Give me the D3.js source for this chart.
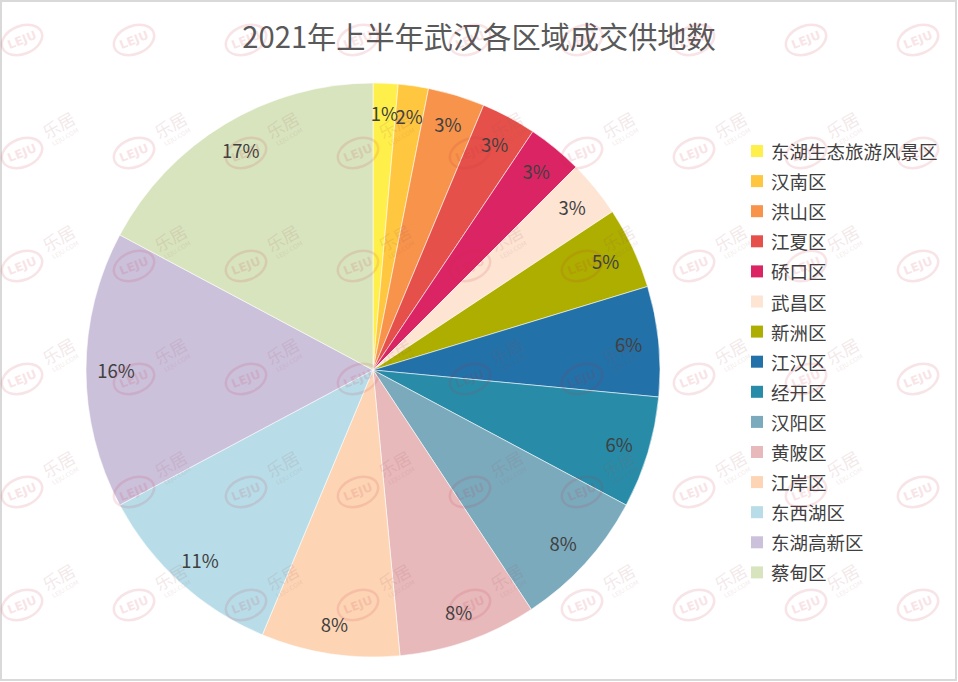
<!DOCTYPE html>
<html><head><meta charset="utf-8">
<script src="https://cdn.jsdelivr.net/npm/d3@7"></script>
<style>
html,body{margin:0;padding:0;background:#fff;}
svg{display:block;}
</style></head>
<body>
<svg id="chart" width="958" height="682"></svg>
<script>
const title = "2021年上半年武汉各区域成交供地数";
const categories = ["东湖生态旅游风景区","汉南区","洪山区","江夏区","硚口区","武昌区","新洲区","江汉区","经开区","汉阳区","黄陂区","江岸区","东西湖区","东湖高新区","蔡甸区"];
const values = [1.4, 1.7, 3.2, 3.1, 3.1, 3.2, 4.6, 6.2, 6.3, 7.9, 7.8, 7.8, 10.9, 15.6, 17.2];
const colors = ["#FFEF4A","#FFC740","#F7934B","#E5504A","#DB2464","#FDE4D3","#ADAE00","#2271A8","#288CA8","#7BAABD","#E7B9BB","#FDD5B5","#B8DDE8","#CCC1DB","#D8E4BE"];

const svg = d3.select("#chart");
const W = 958, H = 682;

// frame
svg.append("rect").attr("x",1).attr("y",1).attr("width",W-3).attr("height",H-3)
  .attr("fill","#fff").attr("stroke","#d9d9d9").attr("stroke-width",2);

// title
svg.append("text").attr("x",479).attr("y",35)
  .attr("text-anchor","middle").attr("dominant-baseline","central")
  .attr("font-family","'Noto Sans CJK SC','Noto Sans',sans-serif")
  .attr("font-size","29.2px").attr("fill","#595959").text(title);

const cx = 373, cy = 370, R = 287;
const total = d3.sum(values);
const pie = d3.pie().sort(null).value(d => d)(values);
const arc = d3.arc().innerRadius(0).outerRadius(R);
const labelArc = d3.arc().innerRadius(257).outerRadius(257);

const g = svg.append("g").attr("transform",`translate(${cx},${cy})`);
g.selectAll("path").data(pie).join("path")
  .attr("d",arc).attr("fill",(d,i)=>colors[i])
  .attr("stroke","#fff").attr("stroke-width",0.7).attr("stroke-opacity",0.8);

g.selectAll("text.lbl").data(pie).join("text").attr("class","lbl")
  .attr("transform",d=>`translate(${labelArc.centroid(d)})`)
  .attr("text-anchor","middle").attr("dominant-baseline","central")
  .attr("font-family","'Noto Sans CJK SC','Noto Sans',sans-serif")
  .attr("font-size","18.5px").attr("fill","#404040")
  .text(d => Math.round(d.data/total*100) + "%");

// legend
const lg = svg.append("g").attr("transform","translate(751,151)");
const rows = lg.selectAll("g").data(categories).join("g")
  .attr("transform",(d,i)=>`translate(0,${i*30.1})`);
rows.append("rect").attr("x",0).attr("y",-6).attr("width",12).attr("height",12)
  .attr("fill",(d,i)=>colors[i]);
rows.append("text").attr("x",20).attr("y",0).attr("dominant-baseline","central")
  .attr("font-family","'Noto Sans CJK SC','Noto Sans',sans-serif")
  .attr("font-size","18.5px").attr("fill","#404040").text(d=>d);

// watermark grid (faint site logo)
const wm = svg.append("g").attr("pointer-events","none");
const wmCols = d3.range(9), wmRows = d3.range(6);
wmRows.forEach(r => wmCols.forEach(c => {
  const x = 22 + c*112, y = 40 + r*113;
  const w = wm.append("g").attr("transform",`translate(${x},${y}) rotate(-22)`).attr("opacity",0.12);
  w.append("ellipse").attr("rx",21).attr("ry",14).attr("fill","none")
    .attr("stroke","#C8283C").attr("stroke-width",2.5);
  w.append("text").attr("text-anchor","middle").attr("dominant-baseline","central")
    .attr("font-family","'DejaVu Sans',sans-serif").attr("font-weight","bold")
    .attr("font-size","12px").attr("fill","#C8283C").text("LEJU");
  const tx = x + 40, ty = y - 22;
  if (ty - 16 > 2 && tx + 24 < W - 2) {
    const t = wm.append("g").attr("transform",`translate(${tx},${ty}) rotate(-30)`).attr("opacity",0.12);
    t.append("text").attr("text-anchor","middle").attr("font-family","'Noto Sans CJK SC',sans-serif")
      .attr("font-size","17px").attr("fill","#A05058").text("乐居");
    t.append("text").attr("text-anchor","middle").attr("y",9).attr("font-family","'DejaVu Sans',sans-serif")
      .attr("font-size","6px").attr("fill","#A05058").text("LEJU.COM");
  }
}));
</script>
</body></html>
